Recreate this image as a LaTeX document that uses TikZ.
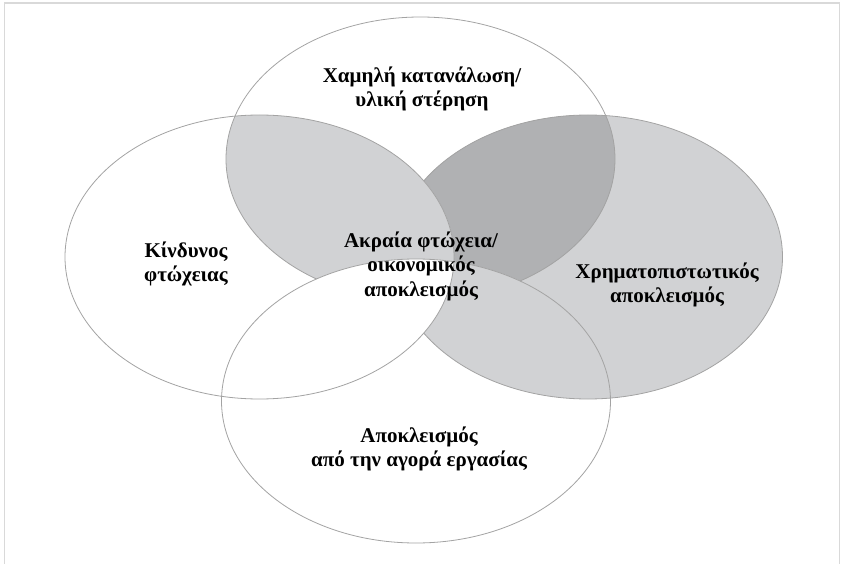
\documentclass[tikz,border=0pt]{standalone}
\usepackage{fontspec}
\setmainfont{Liberation Serif}
\definecolor{vennline}{HTML}{A3A3A3}
\definecolor{venngrey}{HTML}{D1D2D4}
\definecolor{venndark}{HTML}{B0B1B3}
\definecolor{framegrey}{HTML}{D9D9D9}
\def\ellT{(420.5,159) ellipse [x radius=194.5pt, y radius=142pt]}
\def\ellL{(259.5,257) ellipse [x radius=194.5pt, y radius=142pt]}
\def\ellR{(588,257) ellipse [x radius=194.5pt, y radius=142pt]}
\def\ellB{(416,401) ellipse [x radius=194.5pt, y radius=142pt]}
\def\page{(0,0) rectangle (846,564)}
\tikzset{
  venn/.style={draw=vennline, line width=0.8pt},
  lbl/.style={font=\bfseries\fontsize{21}{24.5}\selectfont, align=center, inner sep=0pt},
}

\begin{document}
\begin{tikzpicture}[x=1pt,y=-1pt]
  \useasboundingbox \page;
  \draw[framegrey, line width=1.2pt] (4.5,564) -- (4.5,3) -- (839.5,3) -- (839.5,564);
  \fill[venngrey] \ellR;
  \begin{scope}
    \clip \ellT;
    \fill[venndark] \ellR;
  \end{scope}
  \fill[white] \ellL;
  \begin{scope}
    \clip \ellT;
    \fill[venngrey] \ellL;
  \end{scope}
  \begin{scope}
    \clip \ellB;
    \fill[white] \ellB;
    \fill[venngrey] \ellR;
    \fill[white] \ellL;
  \end{scope}
  \begin{scope}[even odd rule]
    \clip \page \ellB;
    \draw[venn] \ellT;
  \end{scope}
  \begin{scope}[even odd rule]
    \clip \page \ellL;
    \draw[venn] \ellR;
  \end{scope}
  \draw[venn] \ellL;
  \draw[venn] \ellB;
  \node[lbl] (t) at (422,89) {Χαμηλή κατανάλωση/\\υλική στέρηση};
  \node[lbl] (l) at (186,264) {Κίνδυνος\\φτώχειας};
  \node[lbl] (c) at (421,266) {Ακραία φτώχεια/\\οικονομικός\\αποκλεισμός};
  \node[lbl] (r) at (667,285) {Χρηματοπιστωτικός\\αποκλεισμός};
  \node[lbl] (b) at (419,449) {Αποκλεισμός\\από την αγορά εργασίας};
\end{tikzpicture}
\end{document}
